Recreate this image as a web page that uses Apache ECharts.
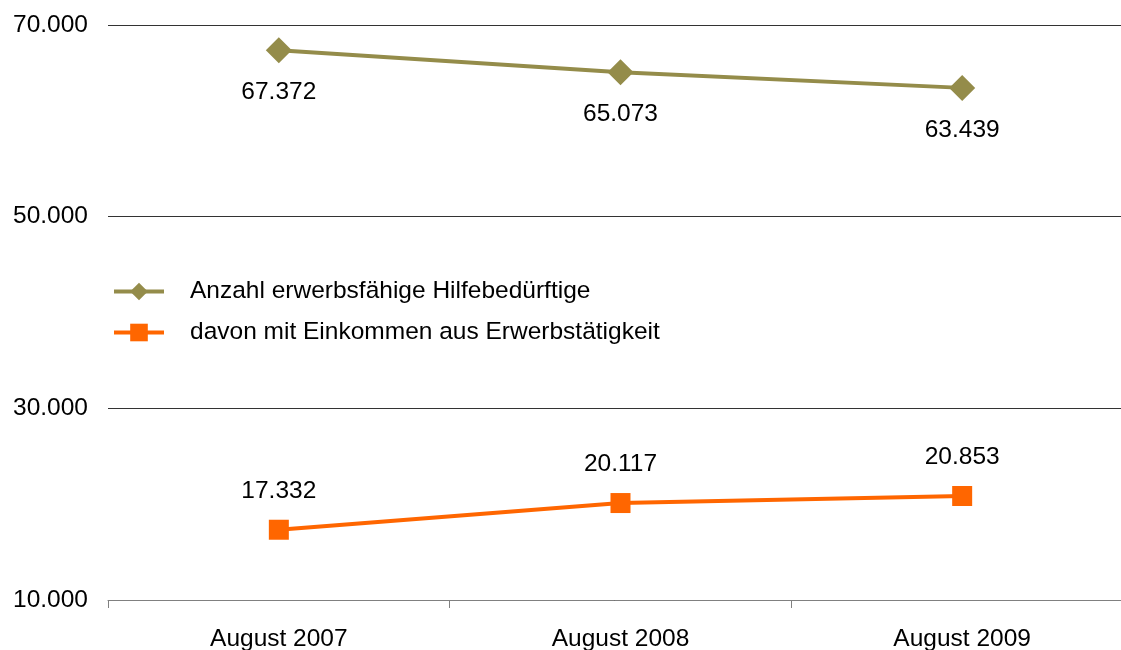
<!DOCTYPE html>
<html>
<head>
<meta charset="utf-8">
<script src="https://cdn.jsdelivr.net/npm/echarts@6/dist/echarts.min.js"></script>
<style>
  html, body { margin: 0; padding: 0; background: #fff; }
  #main { width: 1121px; height: 650px; }
</style>
</head>
<body>
<div id="main"></div>
<script>
// Werte aus der Grafik
var categories = ['August 2007', 'August 2008', 'August 2009'];
var hilfebeduerftige = [67372, 65073, 63439];
var mitEinkommen = [17332, 20117, 20853];
var seriesNames = ['Anzahl erwerbsfähige Hilfebedürftige', 'davon mit Einkommen aus Erwerbstätigkeit'];

// Tausenderpunkt wie im Original
function fmt(v) {
  return String(v).replace(/\B(?=(\d{3})+(?!\d))/g, '.');
}

var myChart = echarts.init(document.getElementById('main'));
var font = 'Liberation Sans, Arial, sans-serif';
var fs = 24.5;
var option = {
  animation: false,
  textStyle: { fontFamily: font },
  grid: {
    left: 108,
    width: 1025,
    top: 25,
    bottom: 50,
    containLabel: false,
    outerBoundsMode: 'none'
  },
  legend: {
    left: 107,
    top: 274,
    orient: 'vertical',
    itemWidth: 50,
    itemHeight: 22,
    itemGap: 16,
    lineStyle: { width: 4 },
    textStyle: {
      fontFamily: font,
      fontSize: fs,
      color: '#000',
      padding: [0, 0, 0, 21]
    },
    data: seriesNames
  },
  xAxis: {
    type: 'category',
    data: categories,
    boundaryGap: true,
    axisLine: { lineStyle: { color: '#808080', width: 1 } },
    axisTick: { show: true, length: 8, lineStyle: { color: '#808080' } },
    axisLabel: { color: '#000', fontSize: fs, margin: 27, fontFamily: font }
  },
  yAxis: {
    type: 'value',
    min: 10000,
    max: 70000,
    interval: 20000,
    axisLine: { show: false },
    axisTick: { show: false },
    splitLine: { lineStyle: { color: '#333', width: 1 } },
    axisLabel: {
      color: '#000',
      fontSize: fs,
      margin: 20,
      fontFamily: font,
      formatter: function (v) { return fmt(v); }
    }
  },
  series: [
    {
      name: seriesNames[0],
      type: 'line',
      data: hilfebeduerftige,
      symbol: 'diamond',
      symbolSize: 26,
      lineStyle: { color: '#948C4A', width: 4 },
      itemStyle: { color: '#948C4A' },
      label: {
        show: true,
        position: 'bottom',
        distance: 17,
        fontSize: fs,
        color: '#000',
        fontFamily: font,
        formatter: function (p) { return fmt(p.value); }
      }
    },
    {
      name: seriesNames[1],
      type: 'line',
      data: mitEinkommen,
      symbol: 'rect',
      symbolSize: 20,
      lineStyle: { color: '#FF6600', width: 4 },
      itemStyle: { color: '#FF6600' },
      label: {
        show: true,
        position: 'top',
        distance: 16,
        fontSize: fs,
        color: '#000',
        fontFamily: font,
        formatter: function (p) { return fmt(p.value); }
      }
    }
  ]
};
myChart.setOption(option);
</script>
</body>
</html>
